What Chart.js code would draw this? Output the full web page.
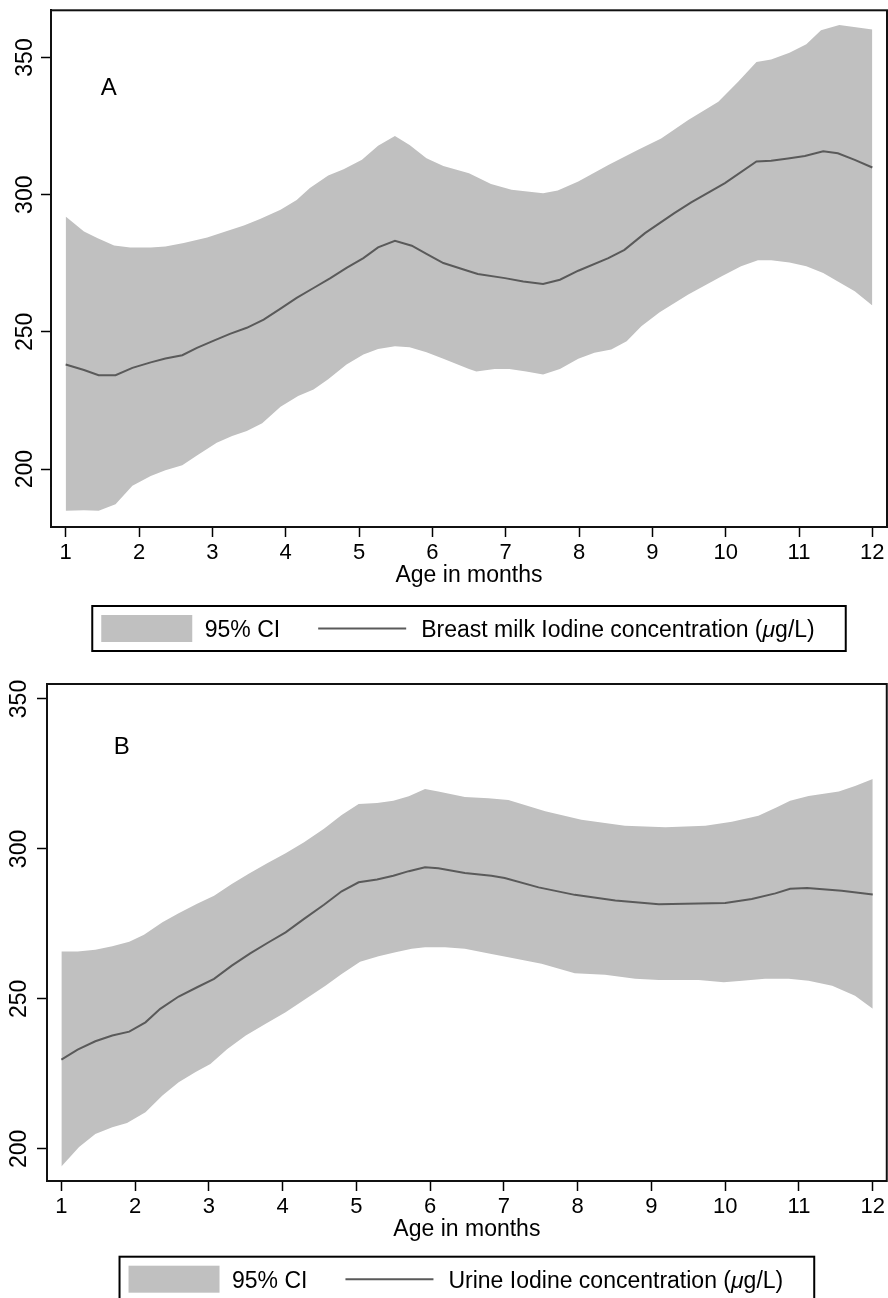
<!DOCTYPE html>
<html>
<head>
<meta charset="utf-8">
<script src="https://cdn.jsdelivr.net/npm/chart.js@4.4.0/dist/chart.umd.min.js"></script>
<style>
  body { margin: 0; background: #fff; }
  canvas { display: block; }
</style>
</head>
<body>
<canvas id="chartA" width="888" height="660"></canvas>
<canvas id="chartB" width="888" height="638"></canvas>
<script>
// tick labels
const monthTicks = [1, 2, 3, 4, 5, 6, 7, 8, 9, 10, 11, 12];
const iodineTicks = [200, 250, 300, 350];

// panel A - breast milk
const milkMeanMonths = [1.0, 1.25, 1.45, 1.68, 1.91, 2.16, 2.36, 2.59, 2.79, 3.02, 3.24, 3.47, 3.70, 3.93, 4.15, 4.38, 4.61, 4.83, 5.06, 5.26, 5.49, 5.72, 5.92, 6.15, 6.49, 6.62, 6.99, 7.24, 7.51, 7.74, 7.99, 8.40, 8.62, 8.90, 9.30, 9.53, 9.99, 10.42, 10.62, 10.85, 11.08, 11.33, 11.53, 11.76, 12.0];
const milkMean = [238.1, 236.1, 234.2, 234.2, 236.9, 238.9, 240.3, 241.5, 244.2, 246.8, 249.3, 251.5, 254.5, 258.5, 262.4, 266.0, 269.6, 273.3, 276.9, 280.8, 283.2, 281.4, 278.4, 275.1, 272.2, 271.1, 269.6, 268.4, 267.5, 269.0, 272.3, 276.9, 279.9, 286.0, 293.3, 297.2, 304.2, 312.1, 312.4, 313.2, 314.1, 315.8, 315.1, 312.7, 309.9];
const milkUpperMonths = [1.0, 1.25, 1.43, 1.66, 1.88, 2.16, 2.36, 2.61, 2.93, 3.20, 3.43, 3.65, 3.93, 4.15, 4.33, 4.58, 4.79, 5.04, 5.26, 5.49, 5.69, 5.92, 6.15, 6.50, 6.80, 7.08, 7.51, 7.71, 7.99, 8.40, 8.80, 9.12, 9.49, 9.90, 10.17, 10.42, 10.62, 10.87, 11.10, 11.30, 11.55, 11.80, 12.0];
const milkUpper = [292.1, 286.6, 284.2, 281.5, 280.8, 280.8, 281.1, 282.4, 284.4, 286.8, 288.8, 291.1, 294.5, 298.1, 302.4, 307.0, 309.3, 312.7, 317.8, 321.4, 318.1, 313.3, 310.5, 307.8, 303.9, 301.8, 300.5, 301.5, 304.8, 310.8, 316.3, 320.5, 327.2, 333.9, 341.2, 348.4, 349.3, 351.7, 354.8, 359.9, 361.8, 360.9, 360.2];
const milkLowerMonths = [1.0, 1.25, 1.45, 1.68, 1.91, 2.16, 2.36, 2.59, 2.79, 3.06, 3.27, 3.47, 3.68, 3.93, 4.17, 4.38, 4.58, 4.83, 5.06, 5.26, 5.49, 5.69, 5.92, 6.15, 6.50, 6.60, 6.85, 7.05, 7.28, 7.51, 7.74, 7.99, 8.21, 8.44, 8.65, 8.85, 9.10, 9.49, 9.94, 10.21, 10.44, 10.62, 10.87, 11.10, 11.33, 11.53, 11.76, 12.0];
const milkLower = [184.8, 185.0, 184.8, 187.2, 193.9, 197.5, 199.6, 201.4, 205.0, 209.6, 212.1, 213.9, 216.7, 222.7, 226.6, 229.0, 232.7, 238.1, 241.8, 243.8, 244.8, 244.4, 242.6, 240.2, 236.5, 235.6, 236.5, 236.5, 235.6, 234.5, 236.5, 240.2, 242.4, 243.6, 246.6, 252.1, 257.2, 263.6, 270.2, 273.9, 276.1, 276.1, 275.3, 273.9, 271.5, 268.4, 264.8, 259.6];
const milkLegend = ["95% CI", "Breast milk Iodine concentration (μg/L)"];

// panel B - urine
const urineMeanMonths = [1.0, 1.22, 1.46, 1.69, 1.92, 2.14, 2.34, 2.59, 2.84, 3.07, 3.31, 3.56, 3.81, 4.04, 4.29, 4.56, 4.80, 5.03, 5.28, 5.50, 5.71, 5.93, 6.11, 6.47, 6.83, 7.01, 7.47, 7.96, 8.51, 9.10, 9.64, 10.00, 10.36, 10.68, 10.88, 11.11, 11.58, 12.0];
const urineMean = [229.8, 233.1, 235.9, 237.8, 239.1, 242.2, 246.7, 250.8, 253.9, 256.7, 261.1, 265.2, 268.9, 272.2, 276.7, 281.4, 285.9, 288.9, 289.8, 291.1, 292.6, 293.9, 293.6, 292.0, 291.1, 290.3, 287.2, 284.7, 282.8, 281.6, 281.8, 282.0, 283.3, 285.2, 286.7, 287.0, 286.1, 284.8];
const urineUpperMonths = [1.0, 1.22, 1.46, 1.69, 1.92, 2.12, 2.37, 2.59, 2.84, 3.07, 3.31, 3.54, 3.79, 4.04, 4.29, 4.56, 4.80, 5.03, 5.28, 5.50, 5.71, 5.93, 6.11, 6.47, 6.79, 7.06, 7.56, 8.05, 8.64, 9.19, 9.73, 10.09, 10.45, 10.70, 10.88, 11.13, 11.54, 11.76, 12.0];
const urineUpper = [265.8, 265.8, 266.4, 267.6, 269.1, 271.4, 275.6, 278.6, 281.7, 284.4, 288.3, 291.7, 295.2, 298.6, 302.2, 306.7, 311.3, 315.0, 315.3, 316.1, 317.6, 320.0, 319.2, 317.3, 316.9, 316.3, 312.6, 309.7, 307.7, 307.2, 307.7, 309.1, 311.1, 313.9, 316.1, 317.7, 319.2, 321.0, 323.3];
const urineLowerMonths = [1.0, 1.24, 1.46, 1.69, 1.89, 2.14, 2.37, 2.59, 2.82, 3.02, 3.25, 3.50, 3.77, 4.04, 4.31, 4.58, 4.80, 5.05, 5.30, 5.53, 5.75, 5.93, 6.20, 6.47, 6.83, 7.06, 7.51, 7.96, 8.37, 8.78, 9.10, 9.64, 9.98, 10.23, 10.54, 10.86, 11.13, 11.45, 11.76, 12.0];
const urineLower = [194.1, 200.6, 205.0, 207.2, 208.6, 212.2, 217.8, 222.2, 225.6, 228.3, 233.3, 237.8, 241.7, 245.6, 250.0, 254.4, 258.3, 262.4, 264.2, 265.6, 266.7, 267.2, 267.2, 266.7, 265.0, 263.9, 261.7, 258.6, 258.1, 256.7, 256.3, 256.3, 255.6, 256.1, 256.7, 256.7, 256.1, 254.4, 251.1, 246.7];
const urineLegend = ["95% CI", "Urine Iodine concentration (μg/L)"];

const family = '"Liberation Sans", Arial, Helvetica, sans-serif';
const bandColor = "#c0c0c0";
const lineColor = "#5a5a5a";
Chart.defaults.font.family = family;
Chart.defaults.color = "#000";

function pts(xs, ys) {
  return xs.map((x, i) => ({ x: x, y: ys[i] }));
}

// legend text, the mu is set in italics like the original
function richText(ctx, text, x, y, draw) {
  const parts = text.split("μ");
  let w = 0;
  parts.forEach((p, i) => {
    ctx.font = "23px " + family;
    if (draw) ctx.fillText(p, x + w, y);
    w += ctx.measureText(p).width;
    if (i < parts.length - 1) {
      ctx.font = "italic 23px " + family;
      if (draw) ctx.fillText("μ", x + w, y);
      w += ctx.measureText("μ").width;
    }
  });
  return w;
}

function makeChart(id, o) {
  return new Chart(document.getElementById(id), {
    type: "line",
    data: {
      datasets: [
        {
          label: o.legend[0],
          data: pts(o.upperX, o.upperY),
          borderColor: "rgba(0,0,0,0)",
          borderWidth: 1,
          backgroundColor: bandColor,
          pointRadius: 0,
          tension: 0,
          fill: "+1",
          order: 2,
        },
        {
          label: "lower",
          data: pts(o.lowerX, o.lowerY),
          borderColor: "rgba(0,0,0,0)",
          borderWidth: 1,
          pointRadius: 0,
          tension: 0,
          fill: false,
          order: 2,
        },
        {
          // lower order is drawn on top of the band
          label: o.legend[1],
          data: pts(o.meanX, o.meanY),
          borderColor: lineColor,
          borderWidth: 2,
          pointRadius: 0,
          tension: 0,
          fill: false,
          order: 0,
        },
      ],
    },
    options: {
      responsive: false,
      animation: false,
      events: [],
      layout: { padding: { top: o.top, right: 1, bottom: o.bottom, left: 0 } },
      plugins: { legend: { display: false }, tooltip: { enabled: false } },
      scales: {
        x: {
          type: "linear",
          min: o.xMin,
          max: o.xMax,
          afterBuildTicks: (s) => { s.ticks = monthTicks.map((v) => ({ value: v })); },
          afterFit: (s) => { s.height = 62; },
          ticks: { autoSkip: false, padding: 3, font: { size: 22 }, color: "#000", maxRotation: 0 },
          grid: { drawOnChartArea: false, drawTicks: true, tickLength: 10, tickWidth: 1.5, tickColor: "#000" },
          border: { display: true, color: "#000", width: 2 },
          title: { display: true, text: "Age in months", font: { size: 23 }, color: "#000", padding: { top: 0, bottom: 0 } },
        },
        y: {
          type: "linear",
          min: o.yMin,
          max: o.yMax,
          afterBuildTicks: (s) => { s.ticks = iodineTicks.map((v) => ({ value: v })); },
          afterFit: (s) => { s.width = o.left; },
          ticks: { autoSkip: false, minRotation: 90, maxRotation: 90, crossAlign: "center", padding: o.yPad, font: { size: 23 }, color: "#000" },
          grid: { drawOnChartArea: false, drawTicks: true, tickLength: 10, tickWidth: 1.5, tickColor: "#000" },
          border: { display: true, color: "#000", width: 2 },
        },
      },
    },
    plugins: [
      {
        id: "frameAndLegend",
        afterDraw(chart) {
          const ctx = chart.ctx;
          const a = chart.chartArea;
          ctx.save();
          // plot box
          ctx.strokeStyle = "#111";
          ctx.lineWidth = 2;
          ctx.strokeRect(a.left, a.top, a.right - a.left, a.bottom - a.top);

          // panel letter
          ctx.fillStyle = "#000";
          ctx.font = "24px " + family;
          ctx.textBaseline = "alphabetic";
          ctx.textAlign = "left";
          ctx.fillText(o.letter, chart.scales.x.getPixelForValue(o.letterX), chart.scales.y.getPixelForValue(o.letterY));

          // legend box
          ctx.font = "23px " + family;
          const w1 = ctx.measureText(o.legend[0]).width;
          const w2 = richText(ctx, o.legend[1], 0, 0, false);
          const boxW = 9 + 91 + 12.5 + w1 + 38 + 88 + 15 + w2 + 31;
          let x = (a.left + a.right) / 2 - boxW / 2;
          const top = o.legendTop;
          ctx.strokeStyle = "#000";
          ctx.lineWidth = 2;
          ctx.strokeRect(x, top, boxW, 45);
          ctx.fillStyle = bandColor;
          ctx.fillRect(x + 9, top + 9, 91, 27);
          ctx.fillStyle = "#000";
          ctx.font = "23px " + family;
          x += 9 + 91 + 12.5;
          ctx.fillText(o.legend[0], x, top + 31);
          x += w1 + 38;
          ctx.strokeStyle = lineColor;
          ctx.lineWidth = 2;
          ctx.beginPath();
          ctx.moveTo(x, top + 22.5);
          ctx.lineTo(x + 88, top + 22.5);
          ctx.stroke();
          x += 88 + 15;
          richText(ctx, o.legend[1], x, top + 31, true);
          ctx.restore();
        },
      },
    ],
  });
}

makeChart("chartA", {
  upperX: milkUpperMonths, upperY: milkUpper,
  lowerX: milkLowerMonths, lowerY: milkLower,
  meanX: milkMeanMonths, meanY: milkMean,
  legend: milkLegend,
  xMin: 0.8, xMax: 12.2, yMin: 178.9, yMax: 367.2,
  top: 10, bottom: 71, left: 51, yPad: -3.5,
  letter: "A", letterX: 1.48, letterY: 336.3,
  legendTop: 606,
});

makeChart("chartB", {
  upperX: urineUpperMonths, upperY: urineUpper,
  lowerX: urineLowerMonths, lowerY: urineLower,
  meanX: urineMeanMonths, meanY: urineMean,
  legend: urineLegend,
  xMin: 0.805, xMax: 12.19, yMin: 189.3, yMax: 355.0,
  top: 24, bottom: 55, left: 47, yPad: -2.2,
  letter: "B", letterX: 1.71, letterY: 331.7,
  legendTop: 596.7,
});
</script>
</body>
</html>
